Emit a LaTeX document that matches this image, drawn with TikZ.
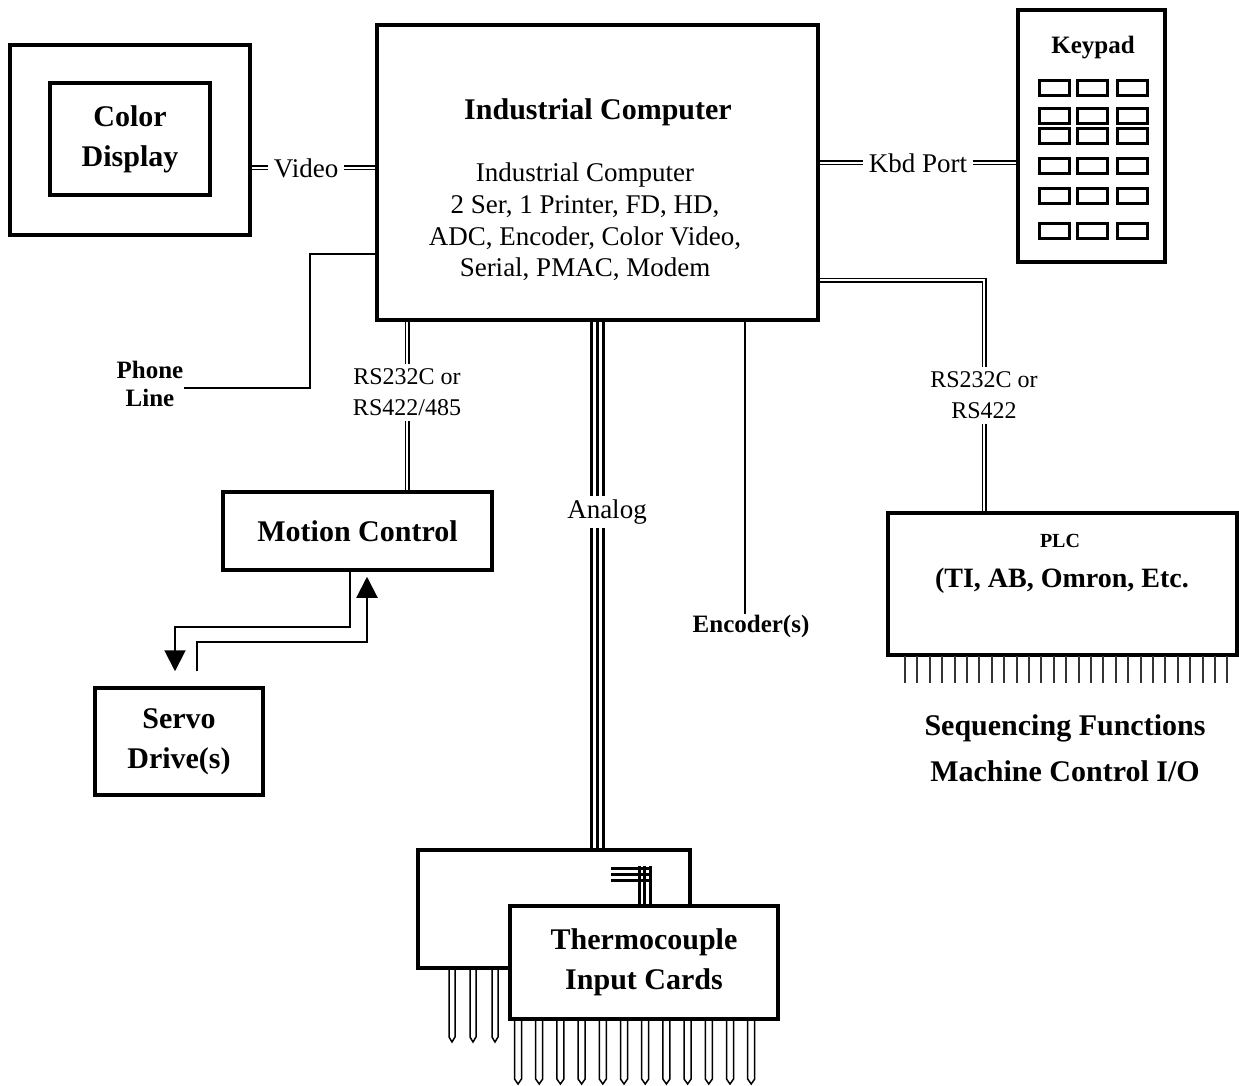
\documentclass[tikz,border=0pt]{standalone}
\usepackage{fontspec}
\setmainfont{Liberation Serif}
\usetikzlibrary{arrows.meta, positioning, calc}

\begin{document}
\begin{tikzpicture}[
    x=1pt, y=-1pt,
    box/.style={draw, line width=3.5pt, fill=white, inner sep=0pt},
    title/.style={font=\fontsize{30}{40}\selectfont\bfseries, align=center, inner sep=0pt},
    small/.style={font=\fontsize{25}{28}\selectfont\bfseries, align=center, inner sep=0pt},
    body/.style={font=\fontsize{27}{31.7}\selectfont, align=center, inner sep=0pt},
    lbl/.style={font=\fontsize{27}{31}\selectfont, align=center, fill=white, inner sep=6pt},
    rslbl/.style={font=\fontsize{24}{31}\selectfont, align=center, fill=white, inner sep=5pt},
    dbl/.style={double, line width=1.2pt, double distance=2.6pt},
    wire/.style={line width=2pt},
    trip/.style={line width=3.3pt},
    pinline/.style={line width=1.5pt},
    keybox/.style={draw, line width=3pt, minimum width=30pt, minimum height=15pt, inner sep=0pt},
    arr/.style={-{Triangle[length=21pt,width=21pt]}}
]
\useasboundingbox (0,0) rectangle (1239,1086);

% main boxes
\node[box, minimum width=240pt, minimum height=190pt] (disp) at (130,140) {};
\node[box, minimum width=160pt, minimum height=112pt, title] (dispin) at (130,139) {Color\\Display};
\node[box, minimum width=441pt, minimum height=295pt] (pc) at (597.5,172.5) {};
\node[title] (pctitle) at (598,112) {Industrial Computer};
\node[body] (pcbody) at (585,222) {Industrial Computer\\2 Ser, 1 Printer, FD, HD,\\ADC, Encoder, Color Video,\\Serial, PMAC, Modem};
\node[box, minimum width=147pt, minimum height=252pt] (keypad) at (1091.5,136) {};
\node[small] (keytitle) at (1093,48) {Keypad};
\foreach \ky [count=\r] in {88,116,136,166,196.5,230.5}
  \foreach \kx [count=\c] in {1054,1092,1132}
    \node[keybox] (key\r\c) at (\kx,\ky) {};
\node[box, minimum width=269pt, minimum height=78pt, title] (motion) at (357.5,531) {Motion Control};
\node[box, minimum width=168pt, minimum height=107pt, title] (servo) at (179,741.5) {Servo\\Drive(s)};
\node[box, minimum width=349pt, minimum height=142pt] (plc) at (1062.5,584) {};
\node[font=\fontsize{20}{24}\selectfont\bfseries, inner sep=0pt] (plctitle) at (1060,541) {PLC};
\node[font=\fontsize{28}{32}\selectfont\bfseries, inner sep=0pt] (plcsub) at (1062,581) {(TI, AB, Omron, Etc.};
\node[title] (seq) at (1065,748) {Sequencing Functions\\[6pt]Machine Control I/O};
\node[small] (phone) at (150,384) {Phone\\Line};
\node[small] (enc) at (751,626) {Encoder(s)};

% thermocouple cards
\node[box, minimum width=272pt, minimum height=118pt] (card0) at (554,909) {};
\foreach \x in {591.5,597.5,603.5}
  \draw[trip] (pc.south -| \x,0) -- (card0.north -| \x,0);
\node[lbl, inner sep=4pt] (analog) at (607,512) {Analog};
\foreach \i in {0,1,2} {
  \draw[line width=3pt] (611,868.5+5.75*\i) -- (652,868.5+5.75*\i);
  \draw[line width=3pt] (639+5.5*\i,866) -- (639+5.5*\i,906);
}
\foreach \px in {452,473,495}
  \draw[pinline] (\px-3,968) -- (\px-3,1037) -- (\px,1042) -- (\px+3,1037) -- (\px+3,968);
\node[box, minimum width=268pt, minimum height=113pt, title] (card1) at (644,962.5) {Thermocouple\\Input Cards};
\foreach \i in {0,...,11}
  \draw[pinline] (518+21.2*\i-3.5,1019) -- (518+21.2*\i-3.5,1079) -- (518+21.2*\i,1084)
    -- (518+21.2*\i+3.5,1079) -- (518+21.2*\i+3.5,1019);
\foreach \i in {0,...,26}
  \draw[line width=2pt, black!80] (905+12.4*\i,656) -- (905+12.4*\i,683);

% connectors
\draw[dbl] (disp.east |- 0,168) -- node[lbl, pos=0.44] {Video} (pc.west |- 0,168);
\draw[dbl] (pc.east |- 0,163) -- node[lbl] {Kbd Port} (keypad.west |- 0,163);
\draw[wire] (pc.west |- 0,254) -| (310,388) -- (phone.east |- 0,388);
\draw[dbl] (pc.south -| 407,0) -- node[rslbl, pos=0.42] {RS232C or\\RS422/485} (motion.north -| 407,0);
\draw[dbl] (pc.east |- 0,280) -| node[rslbl, pos=0.75] {RS232C or\\RS422} (plc.north -| 984,0);
\draw[wire] (pc.south -| 745,0) -- (enc.north -| 745,0);
\draw[wire, arr, shorten >=15pt] (motion.south -| 350,0) |- (175,627) -- (servo.north -| 175,0);
\draw[wire, arr, shorten <=15pt, shorten >=5pt] (servo.north -| 197,0) |- (367,642) -- (motion.south -| 367,0);
\end{tikzpicture}
\end{document}
